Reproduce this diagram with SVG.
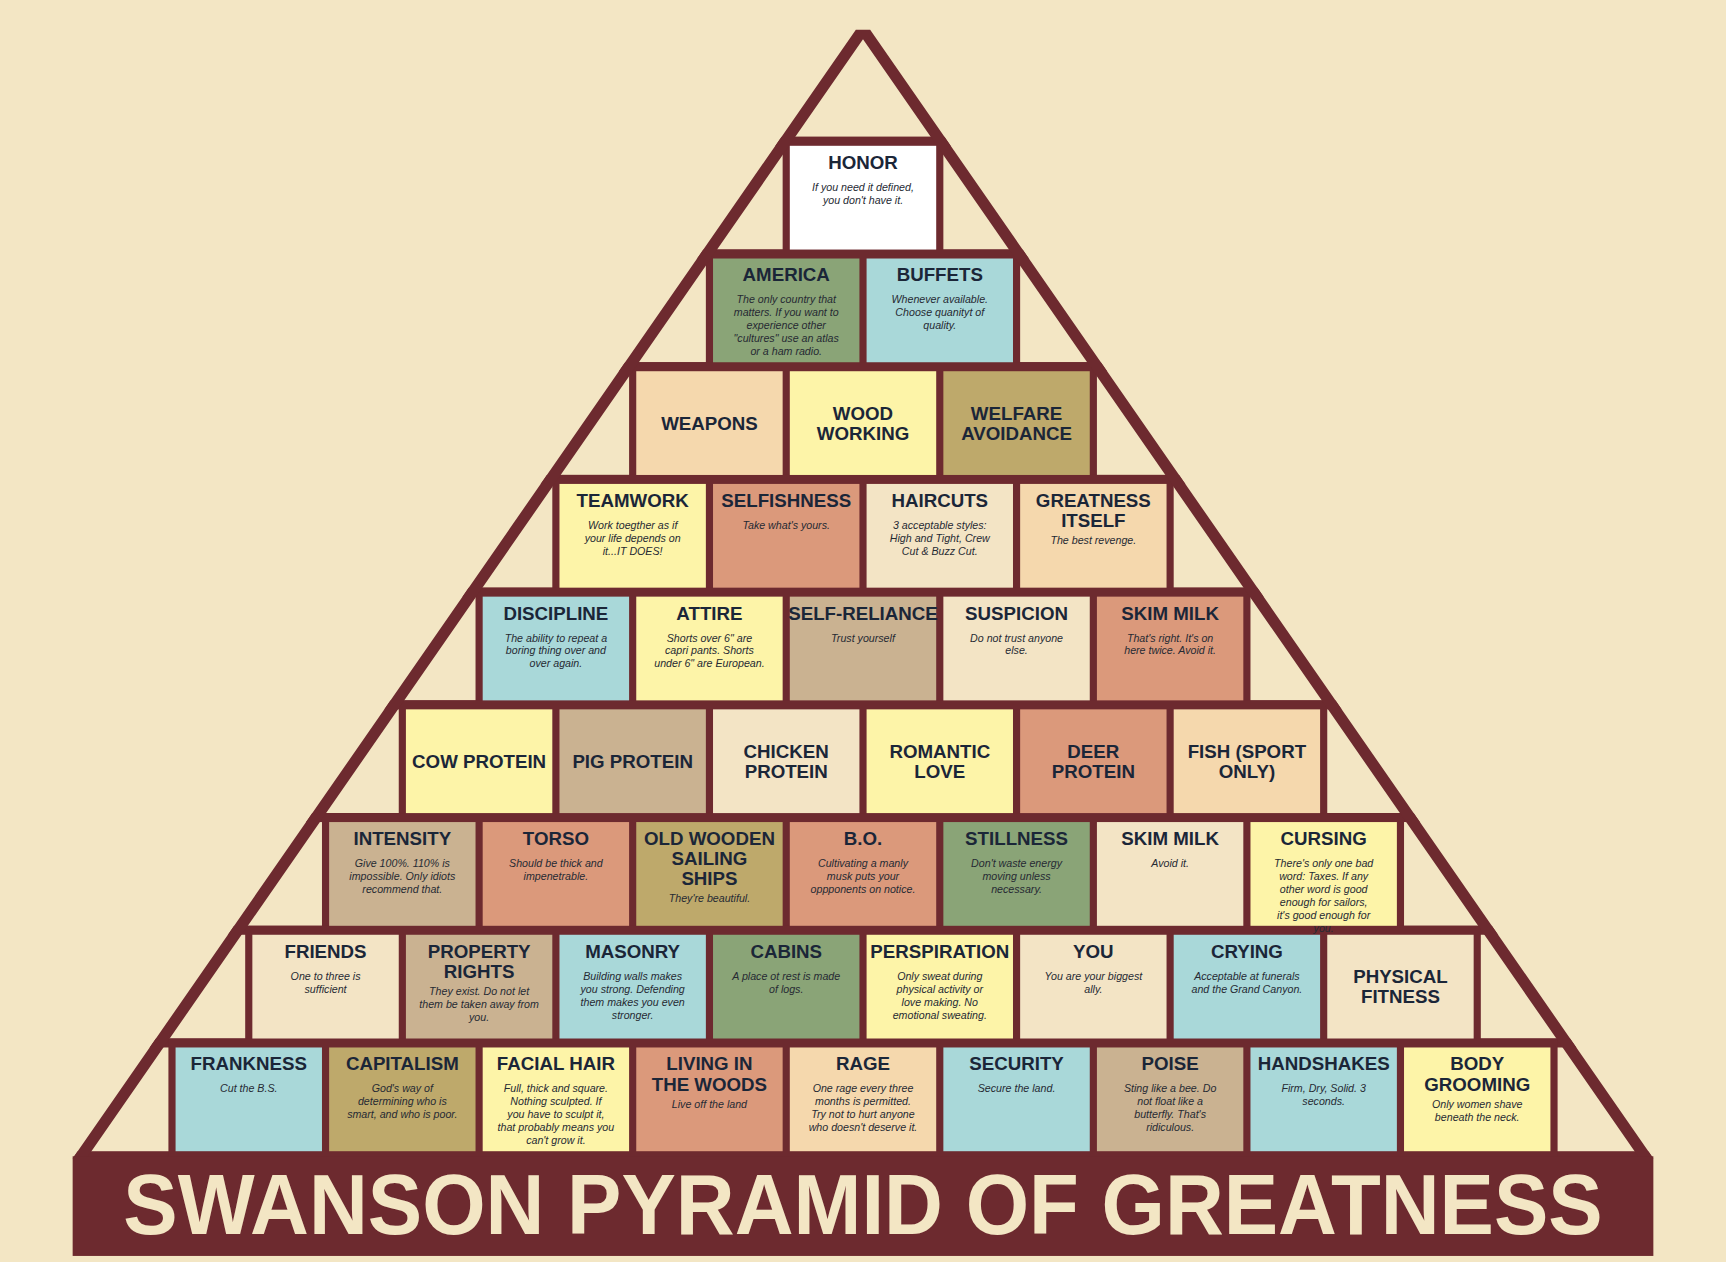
<svg xmlns="http://www.w3.org/2000/svg" width="1726" height="1262" viewBox="0 0 1726 1262">
<defs>
<style>
.t{font-family:"Liberation Sans",Arial,Helvetica,sans-serif;font-weight:700;font-size:17px;fill:#1b2638;text-anchor:middle}
.d{font-family:"Liberation Sans",Arial,Helvetica,sans-serif;font-style:italic;font-size:9.7px;fill:#262a33;text-anchor:middle}
.mr{fill:#6d2a2f}
.w{fill:#ffffff}.g{fill:#8aa477}.b{fill:#a9d8d9}.p{fill:#f5d8ad}.y{fill:#fdf4a8}.k{fill:#bea96b}.s{fill:#db997b}.m{fill:#f3e4c5}.n{fill:#cab291}
</style>
<clipPath id="tri"><path d="M777.5 27H790.5L1502 1052H66Z"/></clipPath>
</defs>
<rect width="1726" height="1262" fill="#f3e6c4"/>
<g transform="scale(1.10077 1.10122)">
<g id="frame">
<g clip-path="url(#tri)" class="mr">
<rect x="0" y="124.2" width="1568" height="8.2"/>
<rect x="0" y="226.55" width="1568" height="8.2"/>
<rect x="0" y="328.9" width="1568" height="8.2"/>
<rect x="0" y="431.25" width="1568" height="8.2"/>
<rect x="0" y="533.6" width="1568" height="8.2"/>
<rect x="0" y="635.95" width="1568" height="8.2"/>
<rect x="0" y="738.3" width="1568" height="8.2"/>
<rect x="0" y="840.65" width="1568" height="8.2"/>
<rect x="0" y="943" width="1568" height="8.2"/>
<rect x="0" y="1045.4" width="1568" height="7"/>
<rect x="711" y="124.2" width="146" height="110.6"/>
<rect x="641.25" y="226.55" width="285.5" height="110.6"/>
<rect x="571.5" y="328.9" width="425" height="110.6"/>
<rect x="501.75" y="431.25" width="564.5" height="110.6"/>
<rect x="432" y="533.6" width="704" height="110.6"/>
<rect x="362.25" y="635.95" width="843.5" height="110.6"/>
<rect x="292.5" y="738.3" width="983" height="110.6"/>
<rect x="222.75" y="840.65" width="1122.5" height="110.6"/>
<rect x="153" y="943" width="1262" height="110.6"/>
</g>
<path class="mr" fill-rule="evenodd" d="M777.5 27H790.5L1502 1052H66Z M784 35.6L78.5 1052H1489.5Z"/>
</g>
<g id="connectors"/>
<g id="title">
<rect class="mr" x="66" y="1050" width="1436" height="90.5"/>
<text x="784" y="1120.4" font-family="'Liberation Sans',Arial,Helvetica,sans-serif" font-weight="700" font-size="78" fill="#f3e6c4" text-anchor="middle" textLength="1344" lengthAdjust="spacingAndGlyphs">SWANSON PYRAMID OF GREATNESS</text>
</g>

<g id="honor" transform="translate(717.5 132.4)"><rect class="w" width="133" height="94.2"/><text class="t" x="66.5" y="20.8">HONOR</text><text class="d"><tspan x="66.5" y="40.8">If you need it defined,</tspan><tspan x="66.5" dy="11.75">you don't have it.</tspan></text></g>

<g id="america" transform="translate(647.75 234.75)"><rect class="g" width="133" height="94.2"/><text class="t" x="66.5" y="20.8">AMERICA</text><text class="d"><tspan x="66.5" y="40.8">The only country that</tspan><tspan x="66.5" dy="11.75">matters. If you want to</tspan><tspan x="66.5" dy="11.75">experience other</tspan><tspan x="66.5" dy="11.75">"cultures" use an atlas</tspan><tspan x="66.5" dy="11.75">or a ham radio.</tspan></text></g>
<g id="buffets" transform="translate(787.25 234.75)"><rect class="b" width="133" height="94.2"/><text class="t" x="66.5" y="20.8">BUFFETS</text><text class="d"><tspan x="66.5" y="40.8">Whenever available.</tspan><tspan x="66.5" dy="11.75">Choose quanityt of</tspan><tspan x="66.5" dy="11.75">quality.</tspan></text></g>

<g id="weapons" transform="translate(578 337.1)"><rect class="p" width="133" height="94.2"/><text class="t" x="66.5" y="53.2">WEAPONS</text></g>
<g id="woodworking" transform="translate(717.5 337.1)"><rect class="y" width="133" height="94.2"/><text class="t"><tspan x="66.5" y="44.05">WOOD</tspan><tspan x="66.5" y="62.35">WORKING</tspan></text></g>
<g id="welfare" transform="translate(857 337.1)"><rect class="k" width="133" height="94.2"/><text class="t"><tspan x="66.5" y="44.05">WELFARE</tspan><tspan x="66.5" y="62.35">AVOIDANCE</tspan></text></g>

<g id="teamwork" transform="translate(508.25 439.45)"><rect class="y" width="133" height="94.2"/><text class="t" x="66.5" y="20.8">TEAMWORK</text><text class="d"><tspan x="66.5" y="40.8">Work toegther as if</tspan><tspan x="66.5" dy="11.75">your life depends on</tspan><tspan x="66.5" dy="11.75">it...IT DOES!</tspan></text></g>
<g id="selfishness" transform="translate(647.75 439.45)"><rect class="s" width="133" height="94.2"/><text class="t" x="66.5" y="20.8">SELFISHNESS</text><text class="d"><tspan x="66.5" y="40.8">Take what's yours.</tspan></text></g>
<g id="haircuts" transform="translate(787.25 439.45)"><rect class="m" width="133" height="94.2"/><text class="t" x="66.5" y="20.8">HAIRCUTS</text><text class="d"><tspan x="66.5" y="40.8">3 acceptable styles:</tspan><tspan x="66.5" dy="11.75">High and Tight, Crew</tspan><tspan x="66.5" dy="11.75">Cut &amp; Buzz Cut.</tspan></text></g>
<g id="greatness" transform="translate(926.75 439.45)"><rect class="p" width="133" height="94.2"/><text class="t"><tspan x="66.5" y="20.8">GREATNESS</tspan><tspan x="66.5" y="39.1">ITSELF</tspan></text><text class="d"><tspan x="66.5" y="55">The best revenge.</tspan></text></g>

<g id="discipline" transform="translate(438.5 541.8)"><rect class="b" width="133" height="94.2"/><text class="t" x="66.5" y="20.8">DISCIPLINE</text><text class="d"><tspan x="66.5" y="40.8">The ability to repeat a</tspan><tspan x="66.5" dy="11.75">boring thing over and</tspan><tspan x="66.5" dy="11.75">over again.</tspan></text></g>
<g id="attire" transform="translate(578 541.8)"><rect class="y" width="133" height="94.2"/><text class="t" x="66.5" y="20.8">ATTIRE</text><text class="d"><tspan x="66.5" y="40.8">Shorts over 6" are</tspan><tspan x="66.5" dy="11.75">capri pants. Shorts</tspan><tspan x="66.5" dy="11.75">under 6" are European.</tspan></text></g>
<g id="selfreliance" transform="translate(717.5 541.8)"><rect class="n" width="133" height="94.2"/><text class="t" x="66.5" y="20.8">SELF-RELIANCE</text><text class="d"><tspan x="66.5" y="40.8">Trust yourself</tspan></text></g>
<g id="suspicion" transform="translate(857 541.8)"><rect class="m" width="133" height="94.2"/><text class="t" x="66.5" y="20.8">SUSPICION</text><text class="d"><tspan x="66.5" y="40.8">Do not trust anyone</tspan><tspan x="66.5" dy="11.75">else.</tspan></text></g>
<g id="skimmilk1" transform="translate(996.5 541.8)"><rect class="s" width="133" height="94.2"/><text class="t" x="66.5" y="20.8">SKIM MILK</text><text class="d"><tspan x="66.5" y="40.8">That's right. It's on</tspan><tspan x="66.5" dy="11.75">here twice. Avoid it.</tspan></text></g>

<g id="cowprotein" transform="translate(368.75 644.15)"><rect class="y" width="133" height="94.2"/><text class="t" x="66.5" y="53.2">COW PROTEIN</text></g>
<g id="pigprotein" transform="translate(508.25 644.15)"><rect class="n" width="133" height="94.2"/><text class="t" x="66.5" y="53.2">PIG PROTEIN</text></g>
<g id="chickenprotein" transform="translate(647.75 644.15)"><rect class="m" width="133" height="94.2"/><text class="t"><tspan x="66.5" y="44.05">CHICKEN</tspan><tspan x="66.5" y="62.35">PROTEIN</tspan></text></g>
<g id="romanticlove" transform="translate(787.25 644.15)"><rect class="y" width="133" height="94.2"/><text class="t"><tspan x="66.5" y="44.05">ROMANTIC</tspan><tspan x="66.5" y="62.35">LOVE</tspan></text></g>
<g id="deerprotein" transform="translate(926.75 644.15)"><rect class="s" width="133" height="94.2"/><text class="t"><tspan x="66.5" y="44.05">DEER</tspan><tspan x="66.5" y="62.35">PROTEIN</tspan></text></g>
<g id="fish" transform="translate(1066.25 644.15)"><rect class="p" width="133" height="94.2"/><text class="t"><tspan x="66.5" y="44.05">FISH (SPORT</tspan><tspan x="66.5" y="62.35">ONLY)</tspan></text></g>

<g id="intensity" transform="translate(299 746.5)"><rect class="n" width="133" height="94.2"/><text class="t" x="66.5" y="20.8">INTENSITY</text><text class="d"><tspan x="66.5" y="40.8">Give 100%. 110% is</tspan><tspan x="66.5" dy="11.75">impossible. Only idiots</tspan><tspan x="66.5" dy="11.75">recommend that.</tspan></text></g>
<g id="torso" transform="translate(438.5 746.5)"><rect class="s" width="133" height="94.2"/><text class="t" x="66.5" y="20.8">TORSO</text><text class="d"><tspan x="66.5" y="40.8">Should be thick and</tspan><tspan x="66.5" dy="11.75">impenetrable.</tspan></text></g>
<g id="ships" transform="translate(578 746.5)"><rect class="k" width="133" height="94.2"/><text class="t"><tspan x="66.5" y="20.8">OLD WOODEN</tspan><tspan x="66.5" y="39.1">SAILING</tspan><tspan x="66.5" y="57.4">SHIPS</tspan></text><text class="d"><tspan x="66.5" y="72.8">They're beautiful.</tspan></text></g>
<g id="bo" transform="translate(717.5 746.5)"><rect class="s" width="133" height="94.2"/><text class="t" x="66.5" y="20.8">B.O.</text><text class="d"><tspan x="66.5" y="40.8">Cultivating a manly</tspan><tspan x="66.5" dy="11.75">musk puts your</tspan><tspan x="66.5" dy="11.75">oppponents on notice.</tspan></text></g>
<g id="stillness" transform="translate(857 746.5)"><rect class="g" width="133" height="94.2"/><text class="t" x="66.5" y="20.8">STILLNESS</text><text class="d"><tspan x="66.5" y="40.8">Don't waste energy</tspan><tspan x="66.5" dy="11.75">moving unless</tspan><tspan x="66.5" dy="11.75">necessary.</tspan></text></g>
<g id="skimmilk2" transform="translate(996.5 746.5)"><rect class="m" width="133" height="94.2"/><text class="t" x="66.5" y="20.8">SKIM MILK</text><text class="d"><tspan x="66.5" y="40.8">Avoid it.</tspan></text></g>

<g id="friends" transform="translate(229.25 848.85)"><rect class="m" width="133" height="94.2"/><text class="t" x="66.5" y="20.8">FRIENDS</text><text class="d"><tspan x="66.5" y="40.8">One to three is</tspan><tspan x="66.5" dy="11.75">sufficient</tspan></text></g>
<g id="propertyrights" transform="translate(368.75 848.85)"><rect class="n" width="133" height="94.2"/><text class="t"><tspan x="66.5" y="20.8">PROPERTY</tspan><tspan x="66.5" y="39.1">RIGHTS</tspan></text><text class="d"><tspan x="66.5" y="55">They exist. Do not let</tspan><tspan x="66.5" dy="11.75">them be taken away from</tspan><tspan x="66.5" dy="11.75">you.</tspan></text></g>
<g id="masonry" transform="translate(508.25 848.85)"><rect class="b" width="133" height="94.2"/><text class="t" x="66.5" y="20.8">MASONRY</text><text class="d"><tspan x="66.5" y="40.8">Building walls makes</tspan><tspan x="66.5" dy="11.75">you strong. Defending</tspan><tspan x="66.5" dy="11.75">them makes you even</tspan><tspan x="66.5" dy="11.75">stronger.</tspan></text></g>
<g id="cabins" transform="translate(647.75 848.85)"><rect class="g" width="133" height="94.2"/><text class="t" x="66.5" y="20.8">CABINS</text><text class="d"><tspan x="66.5" y="40.8">A place ot rest is made</tspan><tspan x="66.5" dy="11.75">of logs.</tspan></text></g>
<g id="perspiration" transform="translate(787.25 848.85)"><rect class="y" width="133" height="94.2"/><text class="t" x="66.5" y="20.8">PERSPIRATION</text><text class="d"><tspan x="66.5" y="40.8">Only sweat during</tspan><tspan x="66.5" dy="11.75">physical activity or</tspan><tspan x="66.5" dy="11.75">love making. No</tspan><tspan x="66.5" dy="11.75">emotional sweating.</tspan></text></g>
<g id="you" transform="translate(926.75 848.85)"><rect class="m" width="133" height="94.2"/><text class="t" x="66.5" y="20.8">YOU</text><text class="d"><tspan x="66.5" y="40.8">You are your biggest</tspan><tspan x="66.5" dy="11.75">ally.</tspan></text></g>
<g id="crying" transform="translate(1066.25 848.85)"><rect class="b" width="133" height="94.2"/><text class="t" x="66.5" y="20.8">CRYING</text><text class="d"><tspan x="66.5" y="40.8">Acceptable at funerals</tspan><tspan x="66.5" dy="11.75">and the Grand Canyon.</tspan></text></g>
<g id="physicalfitness" transform="translate(1205.75 848.85)"><rect class="m" width="133" height="94.2"/><text class="t"><tspan x="66.5" y="44.05">PHYSICAL</tspan><tspan x="66.5" y="62.35">FITNESS</tspan></text></g>

<g id="cursing" transform="translate(1136 746.5)"><rect class="y" width="133" height="94.2"/><text class="t" x="66.5" y="20.8">CURSING</text><text class="d"><tspan x="66.5" y="40.8">There's only one bad</tspan><tspan x="66.5" dy="11.75">word: Taxes. If any</tspan><tspan x="66.5" dy="11.75">other word is good</tspan><tspan x="66.5" dy="11.75">enough for sailors,</tspan><tspan x="66.5" dy="11.75">it's good enough for</tspan><tspan x="66.5" dy="11.75">you.</tspan></text></g>

<g id="frankness" transform="translate(159.5 951.2)"><rect class="b" width="133" height="94.2"/><text class="t" x="66.5" y="20.8">FRANKNESS</text><text class="d"><tspan x="66.5" y="40.8">Cut the B.S.</tspan></text></g>
<g id="capitalism" transform="translate(299 951.2)"><rect class="k" width="133" height="94.2"/><text class="t" x="66.5" y="20.8">CAPITALISM</text><text class="d"><tspan x="66.5" y="40.8">God's way of</tspan><tspan x="66.5" dy="11.75">determining who is</tspan><tspan x="66.5" dy="11.75">smart, and who is poor.</tspan></text></g>
<g id="facialhair" transform="translate(438.5 951.2)"><rect class="y" width="133" height="94.2"/><text class="t" x="66.5" y="20.8">FACIAL HAIR</text><text class="d"><tspan x="66.5" y="40.8">Full, thick and square.</tspan><tspan x="66.5" dy="11.75">Nothing sculpted. If</tspan><tspan x="66.5" dy="11.75">you have to sculpt it,</tspan><tspan x="66.5" dy="11.75">that probably means you</tspan><tspan x="66.5" dy="11.75">can't grow it.</tspan></text></g>
<g id="livinginthewoods" transform="translate(578 951.2)"><rect class="s" width="133" height="94.2"/><text class="t"><tspan x="66.5" y="20.8">LIVING IN</tspan><tspan x="66.5" y="39.1">THE WOODS</tspan></text><text class="d"><tspan x="66.5" y="55">Live off the land</tspan></text></g>
<g id="rage" transform="translate(717.5 951.2)"><rect class="p" width="133" height="94.2"/><text class="t" x="66.5" y="20.8">RAGE</text><text class="d"><tspan x="66.5" y="40.8">One rage every three</tspan><tspan x="66.5" dy="11.75">months is permitted.</tspan><tspan x="66.5" dy="11.75">Try not to hurt anyone</tspan><tspan x="66.5" dy="11.75">who doesn't deserve it.</tspan></text></g>
<g id="security" transform="translate(857 951.2)"><rect class="b" width="133" height="94.2"/><text class="t" x="66.5" y="20.8">SECURITY</text><text class="d"><tspan x="66.5" y="40.8">Secure the land.</tspan></text></g>
<g id="poise" transform="translate(996.5 951.2)"><rect class="n" width="133" height="94.2"/><text class="t" x="66.5" y="20.8">POISE</text><text class="d"><tspan x="66.5" y="40.8">Sting like a bee. Do</tspan><tspan x="66.5" dy="11.75">not float like a</tspan><tspan x="66.5" dy="11.75">butterfly. That's</tspan><tspan x="66.5" dy="11.75">ridiculous.</tspan></text></g>
<g id="handshakes" transform="translate(1136 951.2)"><rect class="b" width="133" height="94.2"/><text class="t" x="66.5" y="20.8">HANDSHAKES</text><text class="d"><tspan x="66.5" y="40.8">Firm, Dry, Solid. 3</tspan><tspan x="66.5" dy="11.75">seconds.</tspan></text></g>
<g id="bodygrooming" transform="translate(1275.5 951.2)"><rect class="y" width="133" height="94.2"/><text class="t"><tspan x="66.5" y="20.8">BODY</tspan><tspan x="66.5" y="39.1">GROOMING</tspan></text><text class="d"><tspan x="66.5" y="55">Only women shave</tspan><tspan x="66.5" dy="11.75">beneath the neck.</tspan></text></g>
</g>
</svg>
